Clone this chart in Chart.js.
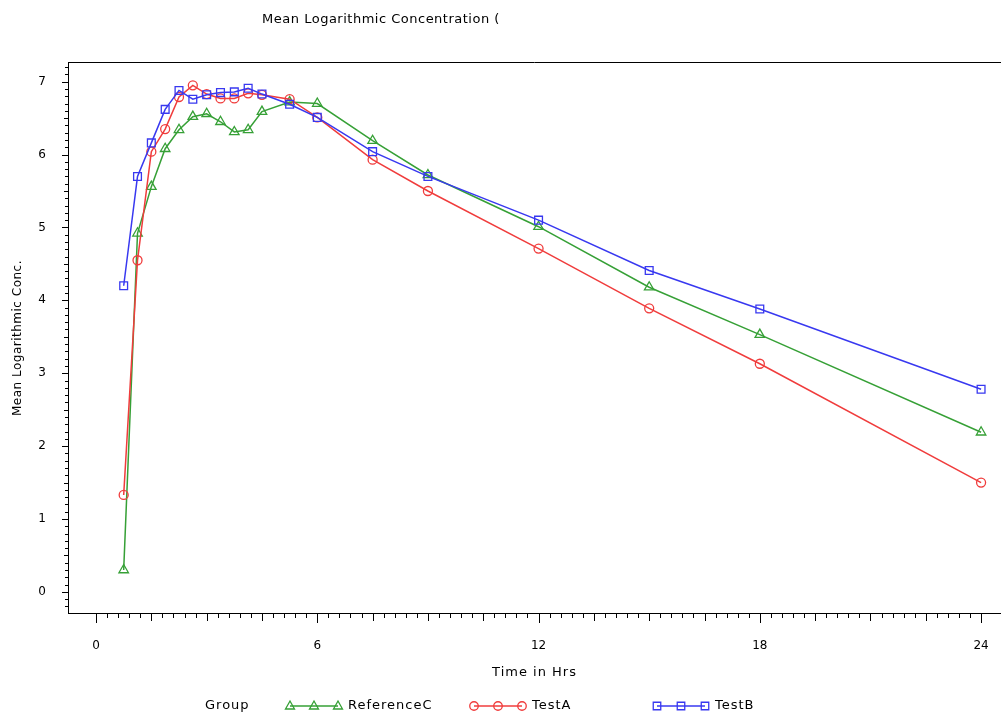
<!DOCTYPE html>
<html>
<head>
<meta charset="utf-8">
<title>Mean Logarithmic Concentration</title>
<script src="https://cdn.jsdelivr.net/npm/chart.js@4"></script>
<style>
    html, body { margin: 0; padding: 0; background: #fff; }
    #wrap { width: 1001px; height: 714px; position: relative; }
</style>
</head>
<body>
<div id="wrap"><canvas id="chart" width="1001" height="714"></canvas></div>
<script>
// sampling times (hours)
const times = [0.75, 1.125, 1.5, 1.875, 2.25, 2.625, 3, 3.375, 3.75, 4.125, 4.5, 5.25, 6, 7.5, 9, 12, 15, 18, 24];

// mean log concentrations per group
const referenceC = [0.30, 4.92, 5.56, 6.08, 6.34, 6.52, 6.56, 6.45, 6.31, 6.34, 6.59, 6.72, 6.70, 6.19, 5.72, 5.01, 4.18, 3.53, 2.19];
const testA = [1.33, 4.55, 6.04, 6.35, 6.79, 6.95, 6.83, 6.77, 6.77, 6.84, 6.82, 6.76, 6.51, 5.93, 5.50, 4.71, 3.89, 3.13, 1.50];
const testB = [4.20, 5.70, 6.16, 6.62, 6.88, 6.76, 6.82, 6.85, 6.86, 6.91, 6.83, 6.69, 6.51, 6.04, 5.70, 5.10, 4.41, 3.88, 2.78];

const groupNames = ['ReferenceC', 'TestA', 'TestB'];
const xTickLabels = [0, 6, 12, 18, 24];
const yTickLabels = [0, 1, 2, 3, 4, 5, 6, 7];

const GREEN = '#36a036';
const RED = '#f03c3c';
const BLUE = '#3838f0';
const FONT = '"DejaVu Sans", sans-serif';

function toPoints(values) {
    return values.map((v, i) => ({ x: times[i], y: v }));
}

// small marker painter for the legend samples
function drawMarker(ctx, style, x, y, r) {
    ctx.beginPath();
    if (style === 'circle') {
        ctx.arc(x, y, r * 0.85, 0, Math.PI * 2);
    } else if (style === 'rect') {
        const s = r * 0.75;
        ctx.rect(x - s, y - s, 2 * s, 2 * s);
    } else {
        ctx.moveTo(x, y - r);
        ctx.lineTo(x + r * 0.9, y + r * 0.6);
        ctx.lineTo(x - r * 0.9, y + r * 0.6);
        ctx.closePath();
    }
    ctx.stroke();
}

const decorations = {
    id: 'decorations',
    afterDraw(chart) {
        const ctx = chart.ctx;
        const area = chart.chartArea;
        const xs = chart.scales.x;
        const ys = chart.scales.y;

        ctx.save();
        ctx.strokeStyle = '#000';
        ctx.lineWidth = 1;

        // top frame line
        ctx.beginPath();
        ctx.moveTo(area.left, area.top + 0.5);
        ctx.lineTo(area.right, area.top + 0.5);
        ctx.stroke();

        // x tick marks every 0.3 h, longer every 1.5 h and at labels
        ctx.beginPath();
        for (let i = 0; i <= 80; i++) {
            const px = Math.round(xs.getPixelForValue(i * 0.3)) + 0.5;
            const len = i % 20 === 0 ? 10 : (i % 5 === 0 ? 8 : 5);
            ctx.moveTo(px, area.bottom);
            ctx.lineTo(px, area.bottom + len);
        }
        ctx.stroke();

        // y tick marks every 0.1
        ctx.beginPath();
        for (let i = -2; i <= 72; i++) {
            const py = Math.round(ys.getPixelForValue(i / 10)) + 0.5;
            const len = i % 10 === 0 ? 6 : (i % 5 === 0 ? 4 : 3);
            ctx.moveTo(area.left, py);
            ctx.lineTo(area.left - len, py);
        }
        ctx.stroke();

        ctx.fillStyle = '#000';
        ctx.textBaseline = 'middle';

        // title
        ctx.font = '13px ' + FONT;
        ctx.letterSpacing = '0.5px';
        ctx.textAlign = 'center';
        ctx.fillText('Mean Logarithmic Concentration (', 381, 20);

        // axis titles
        ctx.letterSpacing = '1px';
        ctx.fillText('Time in Hrs', (area.left + area.right) / 2, 673);

        ctx.save();
        ctx.translate(18, 338);
        ctx.rotate(-Math.PI / 2);
        ctx.font = '12px ' + FONT;
        ctx.letterSpacing = '0.5px';
        ctx.fillText('Mean Logarithmic Conc.', 0, 0);
        ctx.restore();

        // legend
        ctx.textAlign = 'left';
        const ly = 706;
        ctx.fillText('Group', 205, ly);
        const items = [
            { name: groupNames[0], color: GREEN, style: 'triangle', x: 290 },
            { name: groupNames[1], color: RED, style: 'circle', x: 474 },
            { name: groupNames[2], color: BLUE, style: 'rect', x: 657 }
        ];
        items.forEach(it => {
            ctx.strokeStyle = it.color;
            ctx.lineWidth = 1.3;
            ctx.beginPath();
            ctx.moveTo(it.x, ly);
            ctx.lineTo(it.x + 48, ly);
            ctx.stroke();
            [0, 24, 48].forEach(dx => drawMarker(ctx, it.style, it.x + dx, ly, 5));
            ctx.fillStyle = '#000';
            ctx.fillText(it.name, it.x + 58, ly);
        });
        ctx.restore();
    }
};

function series(label, values, color, style, order) {
    return {
        label: label,
        data: toPoints(values),
        borderColor: color,
        backgroundColor: 'transparent',
        borderWidth: 1.5,
        pointStyle: style,
        pointRadius: style === 'circle' ? 4.5 : 5.5,
        pointBorderColor: color,
        pointBackgroundColor: 'transparent',
        pointBorderWidth: 1.3,
        tension: 0,
        order: order
    };
}

const ctx = document.getElementById('chart').getContext('2d');
const chart = new Chart(ctx, {
    type: 'line',
    data: {
        datasets: [
            series(groupNames[0], referenceC, GREEN, 'triangle', 2),
            series(groupNames[1], testA, RED, 'circle', 1),
            series(groupNames[2], testB, BLUE, 'rect', 0)
        ]
    },
    options: {
        responsive: false,
        animation: false,
        layout: { autoPadding: false, padding: { top: 62, right: 0, left: 0, bottom: 0 } },
        plugins: {
            legend: { display: false },
            title: { display: false },
            tooltip: { enabled: false }
        },
        scales: {
            x: {
                type: 'linear',
                min: -0.76,
                max: 24.54,
                afterFit: s => { s.height = 101; s.paddingLeft = 0; s.paddingRight = 0; },
                afterBuildTicks: s => { s.ticks = xTickLabels.map(v => ({ value: v })); },
                grid: { drawOnChartArea: false, drawTicks: false, color: 'transparent' },
                border: { display: true, color: '#000', width: 1 },
                ticks: {
                    padding: 26,
                    color: '#000',
                    font: { family: FONT, size: 12 },
                    maxRotation: 0
                }
            },
            y: {
                min: -0.29,
                max: 7.27,
                afterFit: s => { s.width = 68; s.paddingTop = 0; s.paddingBottom = 0; },
                afterBuildTicks: s => { s.ticks = yTickLabels.map(v => ({ value: v })); },
                grid: { drawOnChartArea: false, drawTicks: false, color: 'transparent' },
                border: { display: true, color: '#000', width: 1 },
                ticks: {
                    padding: 22,
                    color: '#000',
                    font: { family: FONT, size: 12 }
                }
            }
        }
    },
    plugins: [decorations]
});
</script>
</body>
</html>
